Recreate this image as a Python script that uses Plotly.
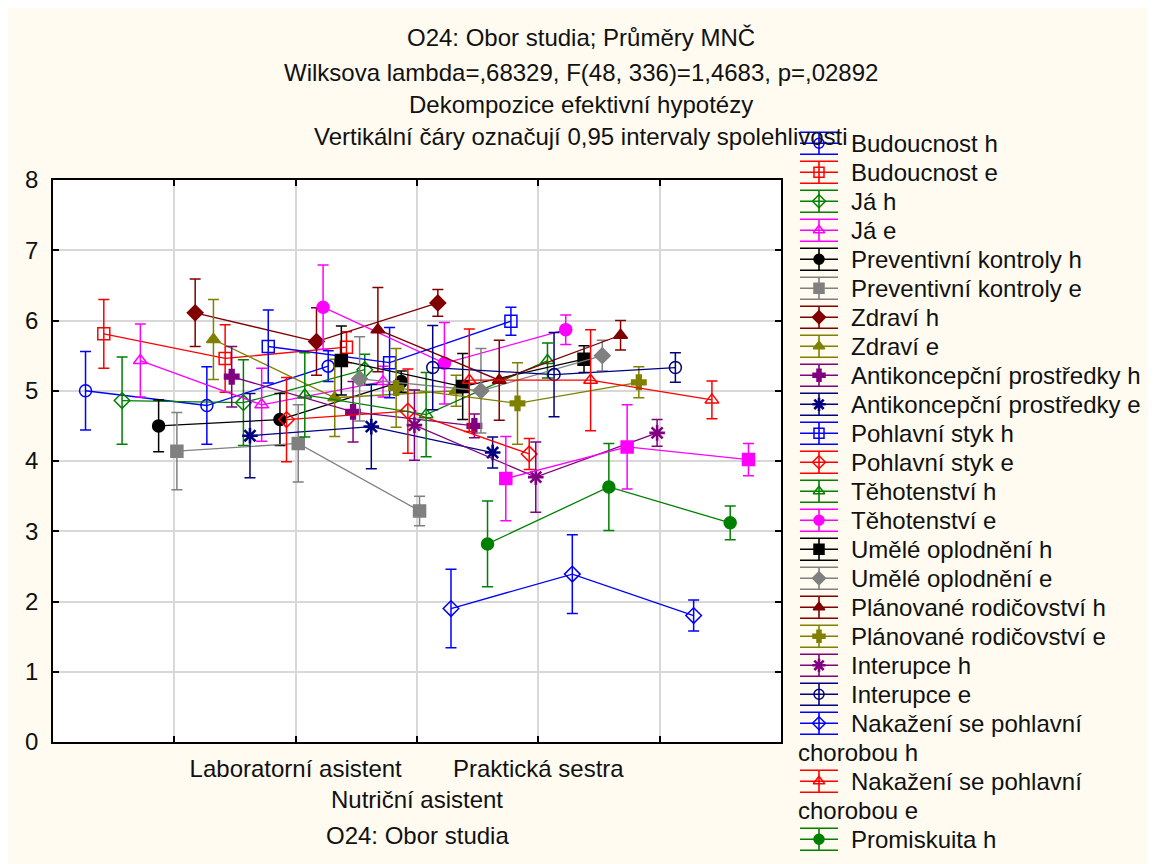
import plotly.graph_objects as go

# ---------------- data ----------------
categories = ["Laboratorní asistent", "Nutriční asistent", "Praktická sestra"]

series_names = [
    "Budoucnost h", "Budoucnost e", "Já h", "Já e",
    "Preventivní kontroly h", "Preventivní kontroly e", "Zdraví h", "Zdraví e",
    "Antikoncepční prostředky h", "Antikoncepční prostředky e",
    "Pohlavní styk h", "Pohlavní styk e", "Těhotenství h", "Těhotenství e",
    "Umělé oplodnění h", "Umělé oplodnění e",
    "Plánované rodičovství h", "Plánované rodičovství e",
    "Interupce h", "Interupce e",
    "Nakažení se pohlavní chorobou h", "Nakažení se pohlavní chorobou e",
    "Promiskuita h", "Promiskuita e",
]

means_lab = [5.00, 5.81, 4.86, 5.43, 4.50, 4.14, 6.11, 5.73, 5.20, 4.36, 5.63, 4.59,
             4.94, 6.19, 5.43, 5.17, 5.87, 5.04, 4.51, 5.33, 1.90, 5.15, 2.82, 3.75]
means_nutr = [4.79, 5.46, 4.83, 4.80, 4.59, 4.25, 5.70, 4.90, 4.70, 4.49, 5.40, 4.71,
              4.66, 5.39, 5.06, 5.00, 5.15, 4.82, 3.77, 5.23, 2.39, 5.15, 3.63, 4.20]
means_prak = [5.35, 5.62, 5.30, 5.13, 5.13, 3.29, 6.25, 5.00, 4.50, 4.12, 5.99, 4.10,
              5.43, 5.87, 5.45, 5.50, 5.79, 5.12, 4.40, 5.33, 1.80, 4.87, 3.12, 4.02]

ci_lab = [0.56, 0.49, 0.62, 0.52, 0.37, 0.55, 0.48, 0.57, 0.43, 0.60, 0.52, 0.60,
          0.60, 0.60, 0.49, 0.60, 0.60, 0.56, 0.50, 0.60, 0.56, 0.73, 0.61, 0.60]
ci_nutr = [0.55, 0.48, 0.61, 0.52, 0.37, 0.55, 0.48, 0.55, 0.43, 0.60, 0.50, 0.60,
           0.60, 0.58, 0.47, 0.60, 0.57, 0.58, 0.50, 0.60, 0.56, 0.72, 0.62, 0.60]
ci_prak = [0.22, 0.22, 0.22, 0.22, 0.15, 0.21, 0.19, 0.22, 0.17, 0.22, 0.20, 0.22,
           0.25, 0.21, 0.19, 0.22, 0.21, 0.22, 0.19, 0.21, 0.22, 0.27, 0.24, 0.23]

title_lines = [
    "O24: Obor studia; Průměry MNČ",
    "Wilksova lambda=,68329, F(48, 336)=1,4683, p=,02892",
    "Dekompozice efektivní hypotézy",
    "Vertikální čáry označují 0,95 intervaly spolehlivosti",
]
x_title = "O24: Obor studia"

# ---------------- styles ----------------
palette = ["#0000FF", "#FF0000", "#008000", "#FF00FF", "#000000",
           "#808080", "#800000", "#808000", "#800080", "#000080"]
symbols = ["circle-open", "square-open", "diamond-open", "triangle-up-open",
           "circle", "square", "diamond", "triangle-up", "cross", "asterisk-open",
           "square-open", "diamond-open", "triangle-up-open", "circle",
           "square", "diamond", "triangle-up", "cross", "asterisk-open", "circle-open",
           "diamond-open", "triangle-up-open", "circle", "square"]

# page offset (default 8px body margin of the html page)
OFF = 8
W, H = 1155 - OFF, 864 - OFF
L, R, T, B = 53, 781, 180, 742          # target page pixels of the plot frame
FONT = "Liberation Sans, Arial, sans-serif"
FS = 24
shift = 0.1506


def px(x):
    return (x - OFF) / W


def py(y):
    return 1 - (y - OFF) / H


def marker_style(sym, c, size):
    if sym.startswith("asterisk"):
        return dict(symbol=sym, size=size + 1, color=c, line=dict(color=c, width=2.6))
    return dict(symbol=sym, size=size, color=c, line=dict(color=c, width=1.5))


fig = go.Figure()

n = len(series_names)
for i in range(n):
    c = palette[i % len(palette)]
    off = (i - (n - 1) / 2) * shift
    xs = [2 + k + off for k in range(len(categories))]
    ys = [means_lab[i], means_nutr[i], means_prak[i]]
    es = [ci_lab[i], ci_nutr[i], ci_prak[i]]
    fig.add_trace(go.Scatter(
        x=xs, y=ys, mode="lines+markers",
        line=dict(color=c, width=1.3),
        marker=marker_style(symbols[i], c, 12),
        error_y=dict(type="data", array=es, color=c, thickness=1.5, width=5.5),
        showlegend=False, name=series_names[i], xaxis="x", yaxis="y",
    ))

# ---------------- custom legend (page-pixel helper axes) ----------------
leg_x0, leg_x1, leg_txt = 800, 838, 849
row_y0, row_h = 143.3, 29.0
annotations = []
row = 0
for i in range(n):
    c = palette[i % len(palette)]
    words = series_names[i].split(" ")
    if len(series_names[i]) > 28:
        parts = [" ".join(words[:3]), " ".join(words[3:])]
    else:
        parts = [series_names[i]]
    yr = row_y0 + row * row_h
    if yr < 864 - 12:
        fig.add_trace(go.Scatter(
            x=[leg_x0, leg_x1], y=[yr, yr], mode="lines",
            line=dict(color=c, width=1.6), showlegend=False, hoverinfo="skip",
            xaxis="x2", yaxis="y2"))
        fig.add_trace(go.Scatter(
            x=[(leg_x0 + leg_x1) / 2], y=[yr], mode="markers",
            marker=marker_style(symbols[i], c, 10),
            error_y=dict(type="data", array=[11], color=c, thickness=1.6, width=19),
            showlegend=False, hoverinfo="skip", xaxis="x2", yaxis="y2"))
        annotations.append(dict(x=leg_txt, y=yr, xref="x2", yref="y2", text=parts[0],
                                showarrow=False, xanchor="left", yanchor="middle",
                                font=dict(family=FONT, size=FS, color="#111")))
    for extra in parts[1:]:
        row += 1
        yr2 = row_y0 + row * row_h
        annotations.append(dict(x=leg_x0 - 4, y=yr2, xref="x2", yref="y2", text=extra,
                                showarrow=False, xanchor="left", yanchor="middle",
                                font=dict(family=FONT, size=FS, color="#111")))
    row += 1

# titles
title_y = [38, 72, 104, 137]
for txt, ty in zip(title_lines, title_y):
    annotations.append(dict(x=px(581), y=py(ty), xref="paper", yref="paper", text=txt,
                            showarrow=False, xanchor="center", yanchor="middle",
                            font=dict(family=FONT, size=FS, color="#111")))
annotations.append(dict(x=px((L + R) / 2), y=py(835), xref="paper", yref="paper",
                        text=x_title, showarrow=False, xanchor="center", yanchor="middle",
                        font=dict(family=FONT, size=FS, color="#111")))

shapes = [
    dict(type="rect", xref="x domain", yref="y domain", x0=0, x1=1, y0=0, y1=1,
         fillcolor="white", line=dict(width=0), layer="below"),
]

axis_common = dict(showgrid=True, gridcolor="#d8d8d8", gridwidth=1.5, zeroline=False,
                   showline=True, linecolor="black", linewidth=1.5, mirror="ticks",
                   ticks="inside", ticklen=6, tickcolor="black", tickwidth=1.5,
                   tickfont=dict(family=FONT, size=FS, color="#111"),
                   automargin=False, fixedrange=True)

fig.update_layout(
    width=W, height=H,
    margin=dict(l=0, r=0, t=0, b=0, autoexpand=False),
    paper_bgcolor="#FFFBF0", plot_bgcolor="rgba(0,0,0,0)",
    font=dict(family=FONT, size=FS, color="#111"),
    showlegend=False,
    annotations=annotations, shapes=shapes,
    xaxis=dict(domain=[px(L), px(R)], range=[0, 6], tickvals=[1, 2, 3, 4, 5],
               ticktext=["", categories[0], "<br>" + categories[1], categories[2], ""],
               tickangle=0, ticklabelstandoff=4, anchor="y", **axis_common),
    yaxis=dict(domain=[py(B), py(T)], range=[0, 8], dtick=1,
               ticklabelstandoff=8, anchor="x", **axis_common),
    xaxis2=dict(domain=[0, 1], range=[OFF, OFF + W], visible=False, anchor="y2",
                fixedrange=True),
    yaxis2=dict(domain=[0, 1], range=[OFF + H, OFF], visible=False, anchor="x2",
                fixedrange=True),
)

fig.write_html("out.html")
